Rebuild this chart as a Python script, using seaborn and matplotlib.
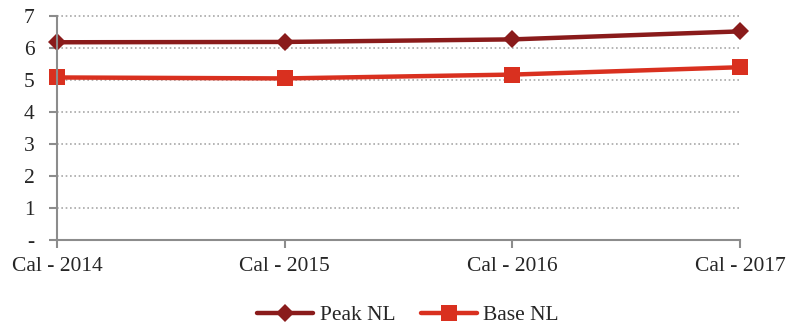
import matplotlib
matplotlib.use("Agg")
import matplotlib.pyplot as plt
import seaborn as sns
import pandas as pd

categories = ["Cal - 2014", "Cal - 2015", "Cal - 2016", "Cal - 2017"]
peak_nl = [6.18, 6.19, 6.27, 6.52]
base_nl = [5.08, 5.05, 5.17, 5.40]
y_ticks = [0, 1, 2, 3, 4, 5, 6, 7]
y_labels = ["-", "1", "2", "3", "4", "5", "6", "7"]

sns.set_style("white")
plt.rcParams["font.family"] = ["Liberation Serif", "DejaVu Serif"]

df = pd.DataFrame({
    "pos": list(range(len(categories))) * 2,
    "value": peak_nl + base_nl,
    "series": ["Peak NL"] * len(categories) + ["Base NL"] * len(categories),
})

fig = plt.figure(figsize=(7.9, 3.27), dpi=100)
ax = fig.add_axes([0.072, 0.266, 0.865, 0.685])

palette = {"Peak NL": "#8A1B1B", "Base NL": "#D9301F"}
sns.lineplot(data=df, x="pos", y="value", hue="series", style="series",
             markers={"Peak NL": "D", "Base NL": "s"}, dashes=False,
             palette=palette, linewidth=3.2, markersize=9,
             markeredgewidth=0, ax=ax, legend=True)
# larger square marker for Base NL
for line in ax.get_lines():
    if line.get_marker() == "s":
        line.set_markersize(11)

for y in y_ticks[1:]:
    ax.axhline(y, color="#a8a8a8", linestyle=(0, (1, 1.6)), linewidth=1.2, zorder=0)

ax.set_xlim(0, len(categories) - 1)
ax.set_ylim(0, 7)
ax.set_xticks(range(len(categories)))
ax.set_xticklabels(categories, fontsize=15.5)
ax.set_yticks(y_ticks)
ax.set_yticklabels(y_labels, fontsize=15.5)
ax.set_xlabel("")
ax.set_ylabel("")

for side in ["top", "right"]:
    ax.spines[side].set_visible(False)
for side in ["left", "bottom"]:
    ax.spines[side].set_color("#8c8c8c")
    ax.spines[side].set_linewidth(1.5)
ax.tick_params(axis="both", which="both", direction="out", length=6,
               width=1.5, color="#8c8c8c", bottom=True, left=True)
ax.tick_params(axis="y", pad=10)
ax.tick_params(axis="x", pad=6)

handles, labels = ax.get_legend_handles_labels()
ax.legend(handles, labels, loc="center", bbox_to_anchor=(0.514, -0.336),
          ncol=2, frameon=False, fontsize=15.5, handlelength=2.6,
          columnspacing=1.2, handletextpad=0.3, borderpad=0.1)
for line in ax.get_lines():
    line.set_clip_on(False)

fig.savefig("out.png", dpi=100)
